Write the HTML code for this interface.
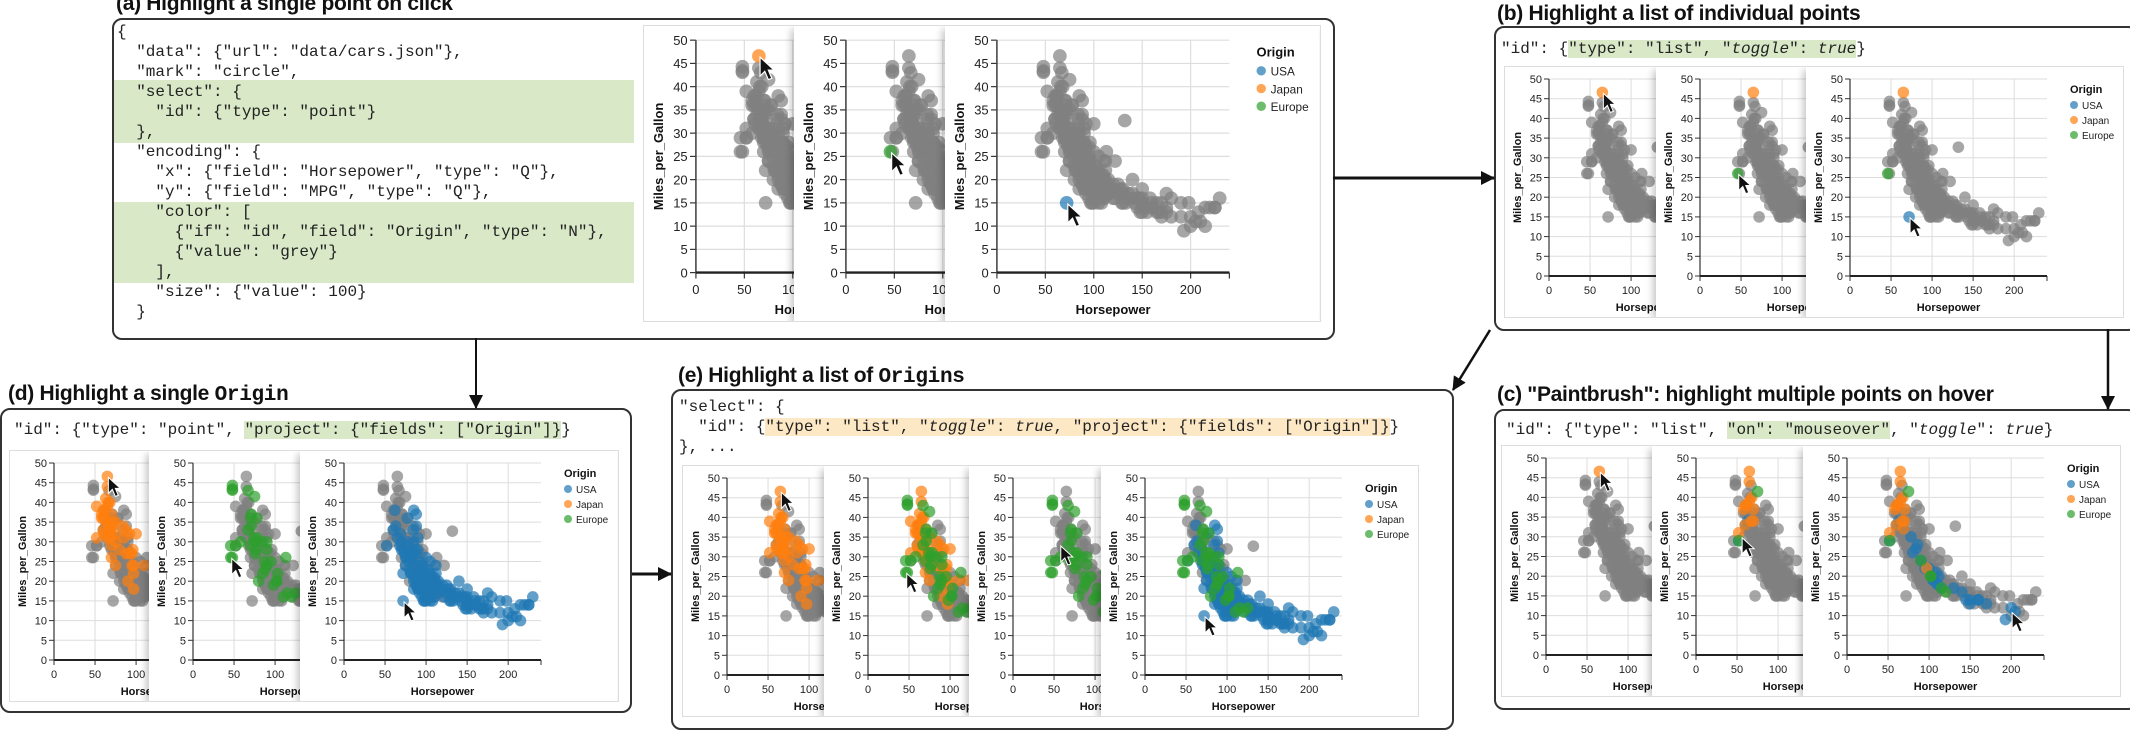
<!DOCTYPE html>
<html><head><meta charset="utf-8">
<style>
body{margin:0;width:2130px;height:730px;overflow:hidden;background:#fff;position:relative;font-family:"Liberation Sans",sans-serif}
.title{position:absolute;font-family:"Liberation Sans",sans-serif;font-weight:bold;font-size:21px;color:#111;white-space:nowrap;line-height:24px;letter-spacing:-0.3px}
.title code{font-family:"Liberation Mono",monospace;font-weight:bold}
.box{position:absolute;border:2px solid #333;border-radius:10px;background:#fff}
.code{position:absolute;font-family:"Liberation Mono",monospace;font-size:16px;line-height:20px;white-space:pre;color:#222}
.hg{background:#d9e8c7}.ho{background:#fde8c5}
.blk{position:absolute;background:#d9e8c7}
.card{position:absolute;border:1px solid #ddd;background:#fff;overflow:hidden}
.card svg{position:absolute;top:0;background:#fff}
.card svg.sh{box-shadow:-3px 3px 7px rgba(0,0,0,0.22)}
</style></head><body>

<div class="title" style="left:116px;top:-8px">(a) Highlight a single point on click</div>
<div class="title" style="left:1497px;top:2px">(b) Highlight a list of individual points</div>
<div class="title" style="left:8px;top:382px">(d) Highlight a single <code>Origin</code></div>
<div class="title" style="left:678px;top:364px">(e) Highlight a list of <code>Origins</code></div>
<div class="title" style="left:1497px;top:383px">(c) "Paintbrush": highlight multiple points on hover</div>

<div class="box" style="left:112px;top:18px;width:1219px;height:318px"></div>
<div class="box" style="left:1494px;top:26px;width:640px;height:301px"></div>
<div class="box" style="left:0px;top:408px;width:628px;height:301px"></div>
<div class="box" style="left:671px;top:389px;width:779px;height:337px"></div>
<div class="box" style="left:1494px;top:409px;width:640px;height:297px"></div>

<div class="blk" style="left:114px;top:80px;width:520px;height:63px"></div>
<div class="blk" style="left:114px;top:202px;width:520px;height:81px"></div>
<div class="code" style="left:117px;top:22px">{
  "data": {"url": "data/cars.json"},
  "mark": "circle",
  "select": {
    "id": {"type": "point"}
  },
  "encoding": {
    "x": {"field": "Horsepower", "type": "Q"},
    "y": {"field": "MPG", "type": "Q"},
    "color": [
      {"if": "id", "field": "Origin", "type": "N"},
      {"value": "grey"}
    ],
    "size": {"value": 100}
  }</div>
<div class="code" style="left:1501px;top:39px">"id": {<span class="hg">"type": "list", "<i>toggle</i>": <i>true</i></span>}</div>
<div class="code" style="left:14px;top:420px">"id": {"type": "point", <span class="hg">"project": {"fields": ["Origin"]}</span>}</div>
<div class="code" style="left:679px;top:397px">"select": {
  "id": {<span class="ho">"type": "list", "<i>toggle</i>": <i>true</i>, "project": {"fields": ["Origin"]}</span>}
}, ...</div>
<div class="code" style="left:1506px;top:420px">"id": {"type": "list", <span class="hg">"on": "mouseover"</span>, "<i>toggle</i>": <i>true</i>}</div>

<div class="card" id="cardA" style="left:643px;top:25px;width:676px;height:295px"></div>
<div class="card" id="cardB" style="left:1504px;top:66px;width:618px;height:250px"></div>
<div class="card" id="cardD" style="left:9px;top:450px;width:608px;height:250px"></div>
<div class="card" id="cardE" style="left:682px;top:465px;width:735px;height:250px"></div>
<div class="card" id="cardC" style="left:1501px;top:445px;width:618px;height:250px"></div>

<svg style="position:absolute;left:0;top:0" width="2130" height="730">
<defs><marker id="ah2" markerWidth="14" markerHeight="14" refX="13" refY="7" orient="auto" markerUnits="userSpaceOnUse" viewBox="0 0 14 14"><path d="M0,0 L14,7 L0,14 Z" fill="#111"/></marker></defs>
<line x1="1333" y1="178" x2="1494" y2="178" stroke="#111" stroke-width="3" marker-end="url(#ah2)"/>
<line x1="476" y1="338" x2="476" y2="408" stroke="#111" stroke-width="2" marker-end="url(#ah2)"/>
<line x1="1490" y1="330" x2="1453" y2="390" stroke="#111" stroke-width="2.5" marker-end="url(#ah2)"/>
<line x1="2108" y1="329" x2="2108" y2="409" stroke="#111" stroke-width="2.5" marker-end="url(#ah2)"/>
<line x1="632" y1="574" x2="671" y2="574" stroke="#111" stroke-width="3" marker-end="url(#ah2)"/>
</svg>

<script>
// cars data: horsepower, mpg, origin
const usaHP=[130,165,150,150,140,198,220,215,225,190,170,160,150,225,95,97,85,90,215,200,210,193,88,100,105,100,100,88,165,175,153,150,180,170,175,110,72,100,88,86,90,70,76,65,69,60,80,110,105,140,150,180,145,130,150,158,167,230,208,190,155,160,148,129,96,98,112,120,130,84,92,78,63,75,90,110,120,85,80,68,135,115,125,140,85,88,84,90,105,95,100,110,72,133,112,72,88,100,105,95,90,100,110,105,98,93,85,97,100,105,92,108,118,145,170,200,205,52,62,77,
 75,80,82,85,88,90,92,95,98,100,102,105,107,110,112,115,78,83,86,94,97,103,70,74,79,81,91,99,104,108,113,117,122,125,128,136,142,147,160,175];
const usaMPG=[18,15,18,16,17,15,14,14,14,15,15,14,15,14,22,18,21,21,10,10,11,9,27,22,19,18,16,19,13,14,14,13,12,13,13,18,22,19,20,28,28,30,26,31,32,33,27,20,22,16,14,16,14,15,15,16,13,16,13,12,13,14,13,15,23,18,20,18,17,27,25,30,34,26,24,19,19,30,26,29,16,17,17,20,38,34,33,31,25,24,26,21,15,15,24,28,37,17,18,19,20,20,18,16,17,19,18,15,15,15,22,21,18,16,12,12,11,29,38,36,
 24,23,22,20,19,18,17,16,15,21,23,19,17,16,22,20,29,26,24,21,20,16,28,27,25,22,18,17,21,15,19,18,16,19,18,17,15,16,15,17];
const japHP=[95,88,65,69,97,92,52,61,67,70,75,70,60,65,97,122,68,65,58,60,67,95,75,96,97,88,67,132,100,75,60,65,62,84,92,68,110,75,52,70,62,72,80,85,58,63,66,90,70,65];
const japMPG=[24,27,31,32,24,27,31,32,33,29,32,37,36,39,18,24,40,46.6,36,33,32,27,35,28,22,33,34,32.7,32,30,38,44,36,34,32,31,24,24,39,34,38,35,28,31,37,41,40,20,26,35];
const eurHP=[46,87,90,95,113,90,70,76,48,48,48,67,71,78,70,58,46,83,78,74,88,102,115,103,110,125,71,67,76,48,52,77,75,102,120,90,80,85,98];
const eurMPG=[26,25,24,25,26,28,29,30,43.4,44.3,43.1,43,37,36,36,30,29,30,31,31,23,20,17,22,16,17,34,33,27,26,29,28,41.5,20,16,30,20,22,19];
const xTicks=[0,50,100,150,200];
const yTicks=[0,5,10,15,20,25,30,35,40,45,50];
const xMax=240, yMax=50;
const originNames=["USA","Japan","Europe"];
const originColors={USA:"#1f77b4",Japan:"#ff7f0e",Europe:"#2ca02c"};

const pts=[];
usaHP.forEach((h,i)=>pts.push({hp:h,mpg:usaMPG[i],o:"USA"}));
japHP.forEach((h,i)=>pts.push({hp:h,mpg:japMPG[i],o:"Japan"}));
eurHP.forEach((h,i)=>pts.push({hp:h,mpg:eurMPG[i],o:"Europe"}));

const selJ=[[65,46.6]], selE=[[46,26]], selU=[[72,15]];
const selC2=[[65,46.6],[65,44],[68,40],[60,38],[62,38],[58,37],[60,33],[67,34],[70,34],[52,31],[70,37],[65,39],[75,41.5],[63,34],[60,33],[52,29]];
const selC3=selC2.concat([[69,32],[78,30],[80,26],[84,27],[86,28],[90,24],[95,22],[100,22],[105,19],[110,18],[112,20],[108,21],[102,20],[115,17],[120,16],[130,17],[140,16],[145,14],[150,14],[150,13],[160,14],[170,13],[193,9],[200,12],[205,11],[97,22]]);

const NS="http://www.w3.org/2000/svg";
function el(tag,attrs,parent){const e=document.createElementNS(NS,tag);for(const k in attrs)e.setAttribute(k,attrs[k]);parent.appendChild(e);return e;}
function inList(p,list){return list.some(q=>q[0]===p.hp&&q[1]===p.mpg);}

function drawPanel(card,left,s,idx,colorFn,cursor,legend,shadow){
  const W=317,H=250,ax=44,top=12,pw=197,ph=197;
  const svg=document.createElementNS(NS,"svg");
  
  
  svg.setAttribute("width",W*s);svg.setAttribute("height",H*s);
  svg.setAttribute("viewBox","0 0 "+W+" "+H);
  svg.style.left=left+"px"; svg.style.zIndex=idx+1;
  if(shadow) svg.setAttribute("class","sh");
  card.appendChild(svg);
  const X=v=>ax+v/xMax*pw, Y=v=>top+(yMax-v)/yMax*ph;
  const g=el("g",{},svg);
  yTicks.forEach(t=>{
    const ln=el("line",{x1:ax,x2:ax+pw,y1:Y(t),y2:Y(t),stroke:"#ddd","stroke-width":1},g);
    
    
    el("line",{x1:ax-5,x2:ax,y1:Y(t),y2:Y(t),stroke:"#333"},g);
    const tx=el("text",{x:ax-7,y:Y(t)+4,"text-anchor":"end","font-size":11,fill:"#222"},g);
    
    
    tx.textContent=t;
  });
  xTicks.forEach(t=>{
    const ln=el("line",{x1:X(t),x2:X(t),y1:top,y2:top+ph,stroke:"#ddd","stroke-width":1},g);
    
    
    el("line",{x1:X(t),x2:X(t),y1:top+ph,y2:top+ph+5,stroke:"#333"},g);
    const tx=el("text",{x:X(t),y:top+ph+18,"text-anchor":"middle","font-size":11,fill:"#222"},g);
    
    
    tx.textContent=t;
  });
  el("line",{x1:ax,x2:ax,y1:top,y2:top+ph,stroke:"#333","stroke-width":1.2},g);
  el("line",{x1:ax,x2:ax+pw,y1:top+ph,y2:top+ph,stroke:"#222","stroke-width":2},g);
  el("line",{x1:ax+pw,x2:ax+pw,y1:top+ph,y2:top+ph+5,stroke:"#333"},g);
  const yt=el("text",{x:0,y:0,transform:"translate(16,"+(top+ph/2)+") rotate(-90)","text-anchor":"middle","font-size":11,"font-weight":"bold",fill:"#111"},g);
  
  
  yt.textContent="Miles_per_Gallon";
  const xt=el("text",{x:ax+pw/2,y:top+ph+35,"text-anchor":"middle","font-size":11,"font-weight":"bold",fill:"#111"},g);
  
  
  xt.textContent="Horsepower";
  const grey=[],col=[];
  pts.forEach(p=>{const c=colorFn(p);(c?col:grey).push([p,c]);});
  grey.concat(col).forEach(([p,c])=>{
    const ci=el("circle",{cx:X(p.hp),cy:Y(p.mpg),r:5.8,fill:c||"#808080","fill-opacity":0.7},g);
    
    
  });
  if(cursor){
    const cx=X(cursor[0])+1,cy=Y(cursor[1])+1;
    const cu=el("path",{d:"M0,0 L0,16 L4,12 L7,19 L10,18 L7,11 L12,11 Z",transform:"translate("+cx+","+cy+")",fill:"#111",stroke:"#fff","stroke-width":1},g);
    
    
  }
  if(legend){
    const lx=ax+220;
    const lt=el("text",{x:lx,y:26,"font-size":11,"font-weight":"bold",fill:"#111"},g);
    
    
    lt.textContent="Origin";
    originNames.forEach((n,i)=>{
      const yy=38+i*15;
      const c=el("circle",{cx:lx+4,cy:yy,r:4,fill:originColors[n],"fill-opacity":0.7},g);
      
      
      const t=el("text",{x:lx+12,y:yy+4,"font-size":10,fill:"#222"},g);
      
      
      t.textContent=n;
    });
  }
}
const byPts=list=>p=>inList(p,list)?originColors[p.o]:null;
const byOrig=list=>p=>list.includes(p.o)?originColors[p.o]:null;

function group(id,s,lefts,specs){
  const card=document.getElementById(id);
  specs.forEach((sp,i)=>drawPanel(card,lefts[i],s,i,sp[0],sp[1],i===specs.length-1,i>0));
}
group("cardA",1.18,[0,150,301],[[byPts(selJ),[65,46.6]],[byPts(selE),[46,26]],[byPts(selU),[72,15]]]);
group("cardB",1,[0,151,301],[[byPts(selJ),[65,46.6]],[byPts(selJ.concat(selE)),[46,26]],[byPts(selJ.concat(selE,selU)),[72,15]]]);
group("cardD",1,[0,139,290],[[byOrig(["Japan"]),[65,46.6]],[byOrig(["Europe"]),[46,26]],[byOrig(["USA"]),[72,15]]]);
group("cardE",1,[0,141,286,418],[[byOrig(["Japan"]),[65,46.6]],[byOrig(["Japan","Europe"]),[46,26]],[byOrig(["Europe"]),[57,33]],[byOrig(["Europe","USA"]),[72,15]]]);
group("cardC",1,[0,150,301],[[byPts(selJ),[65,46.6]],[byPts(selC2),[55,30]],[byPts(selC3),[200,11]]]);
</script>
</body></html>
